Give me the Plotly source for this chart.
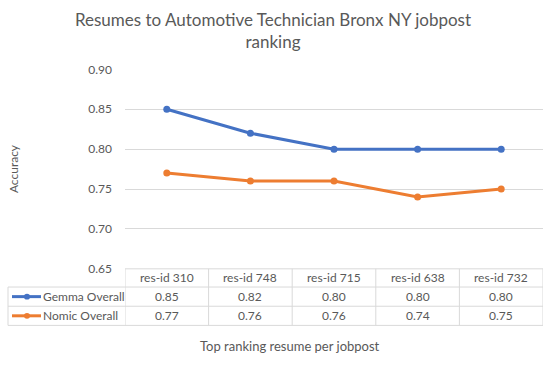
import plotly.graph_objects as go

categories = ["res-id 310", "res-id 748", "res-id 715", "res-id 638", "res-id 732"]
gemma = [0.85, 0.82, 0.80, 0.80, 0.80]
nomic = [0.77, 0.76, 0.76, 0.74, 0.75]
series_names = ["Gemma Overall", "Nomic Overall"]
colors = ["#4472C4", "#ED7D31"]

W, H = 550, 365
FONT = "Lato"
TXT = "#595959"
GRID = "#d9d9d9"

def px(x):
    return min(max(x / W, 0.0), 1.0)

def py(y):
    return min(max(1 - y / H, 0.0), 1.0)

x_left, x_right = 125, 543
y_top, y_bot = 64, 272
row_y = [272, 291, 311, 331]
table_left = 8

fig = go.Figure()
for name, vals, c in zip(series_names, [gemma, nomic], colors):
    fig.add_trace(go.Scatter(x=categories, y=vals, mode="lines+markers", name=name,
                             line=dict(color=c, width=3),
                             marker=dict(color=c, size=7),
                             showlegend=False, hoverinfo="skip"))

shapes = []
annotations = []
for i, y in enumerate(row_y):
    x0 = x_left if i == 0 else table_left
    shapes.append(dict(type="line", xref="paper", yref="paper", x0=px(x0), x1=px(x_right),
                       y0=py(y), y1=py(y), line=dict(color=GRID, width=1)))
for k in range(len(categories) + 1):
    shapes.append(dict(type="line", xref="x", yref="paper", x0=k - 0.5, x1=k - 0.5,
                       y0=py(row_y[0]), y1=py(row_y[-1]), line=dict(color=GRID, width=1)))
shapes.append(dict(type="line", xref="paper", yref="paper", x0=px(table_left), x1=px(table_left),
                   y0=py(row_y[1]), y1=py(row_y[-1]), line=dict(color=GRID, width=1)))

for cat in categories:
    annotations.append(dict(x=cat, y=py((row_y[0] + row_y[1]) / 2), xref="x", yref="paper",
                            text=cat, showarrow=False, xanchor="center", yanchor="middle",
                            font=dict(family=FONT, size=12, color=TXT)))
for r, (name, vals, c) in enumerate(zip(series_names, [gemma, nomic], colors)):
    yc = (row_y[r + 1] + row_y[r + 2]) / 2
    for cat, v in zip(categories, vals):
        annotations.append(dict(x=cat, y=py(yc), xref="x", yref="paper", text=f"{v:.2f}",
                                showarrow=False, xanchor="center", yanchor="middle",
                                font=dict(family=FONT, size=12, color=TXT)))
    shapes.append(dict(type="line", xref="paper", yref="paper", x0=px(12), x1=px(41),
                       y0=py(yc), y1=py(yc), line=dict(color=c, width=3)))
    shapes.append(dict(type="circle", xref="paper", yref="paper", x0=px(24), x1=px(30),
                       y0=py(yc + 3), y1=py(yc - 3), fillcolor=c, line=dict(color=c, width=0)))
    annotations.append(dict(x=px(41), y=py(yc), xref="paper", yref="paper", text=name,
                            xanchor="left", yanchor="middle", showarrow=False,
                            font=dict(family=FONT, size=12, color=TXT)))

annotations.append(dict(x=px(290), y=py(352), xref="paper", yref="paper",
                        text="Top ranking resume per jobpost", showarrow=False,
                        xanchor="center", yanchor="middle",
                        font=dict(family=FONT, size=13, color=TXT)))
annotations.append(dict(x=px(13), y=py(168), xref="paper", yref="paper", text="Accuracy",
                        textangle=-90, showarrow=False, xanchor="center", yanchor="middle",
                        font=dict(family=FONT, size=12, color=TXT)))

fig.update_layout(
    width=W, height=H,
    margin=dict(l=0, r=0, t=0, b=0),
    paper_bgcolor="white", plot_bgcolor="white",
    hovermode=False,
    title=dict(text="Resumes to Automotive Technician Bronx NY jobpost<br>ranking",
               x=px(273), xanchor="center", y=py(26), yanchor="middle",
               font=dict(family=FONT, size=17, color=TXT)),
    xaxis=dict(domain=[px(x_left), px(x_right)], range=[-0.5, 4.5], showticklabels=False,
               showgrid=False, zeroline=False, showline=False, ticks=""),
    yaxis=dict(domain=[py(y_bot), py(y_top)], range=[0.65, 0.90], dtick=0.05,
               tickformat=".2f", showgrid=True, gridcolor=GRID, gridwidth=1,
               zeroline=False, showline=False, ticks="", ticklabelstandoff=12,
               tickfont=dict(family=FONT, size=12, color=TXT)),
    shapes=shapes,
    annotations=annotations,
)

page_fix = ("document.documentElement.style.margin='0';"
            "document.documentElement.style.overflow='hidden';"
            "document.body.style.margin='0';"
            "document.body.style.overflow='hidden';")
fig.write_html("out.html", post_script=page_fix, config={"displayModeBar": False})
